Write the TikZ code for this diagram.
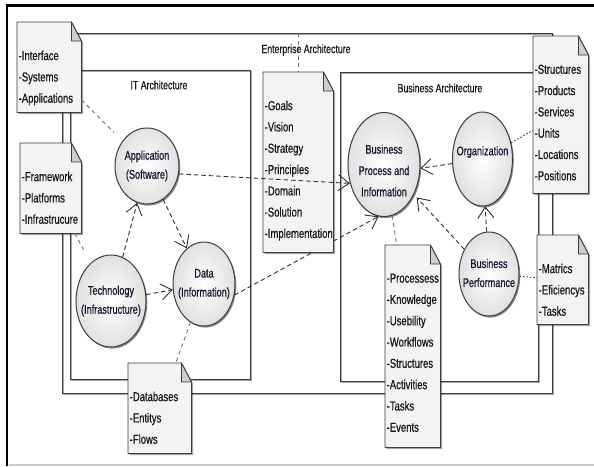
\documentclass[tikz,border=0pt]{standalone}
\usepackage{fontspec}
\setmainfont[FakeStretch=0.73,FakeBold=0.6]{Liberation Sans}
\usetikzlibrary{arrows.meta,shapes.geometric,shadows,calc}
\definecolor{edge}{HTML}{3C3C3C}
\definecolor{notefill}{HTML}{F3F3F3}
\definecolor{foldfill}{HTML}{CDCDCD}
\definecolor{txt}{HTML}{16161F}
\definecolor{circtxt}{HTML}{14142E}
\definecolor{conn}{HTML}{303030}
\definecolor{lightconn}{HTML}{707070}
\tikzset{
 pageborder/.style={draw=black, line width=2.6pt},
 pagebottom/.style={draw=black!20, line width=1.4pt},
 framedark/.style={draw=edge, line width=0.9pt},
 frameshade/.style={draw=black!35, line width=1pt},
 framelabel/.style={font=\fontsize{12}{15}\selectfont, text=txt, inner sep=0pt},
 notebase/.style={rectangle, anchor=north west, inner sep=0pt, draw=none},
 notebody/.style={fill=notefill, draw=edge, line width=0.8pt, line join=round,
   drop shadow={shadow xshift=1.6pt, shadow yshift=-1.6pt, fill=black, opacity=0.35}},
 notefoldst/.style={fill=foldfill, draw=edge, line width=0.8pt, line join=round},
 notetext/.style={anchor=north west, inner sep=0pt, align=left, text=txt, font=\fontsize{13}{21.3}\selectfont},
 circ/.style={ellipse, inner sep=0pt, draw=edge, line width=1pt, inner color=white, outer color=black!12,
   drop shadow={shadow xshift=1.3pt, shadow yshift=-1.6pt, fill=black, opacity=0.45}},
 circlabel/.style={inner sep=0pt, align=center, text=circtxt, font=\fontsize{12.5}{19}\selectfont},
 arr/.style={draw=conn, line width=0.9pt, dash pattern=on 4.5pt off 3pt, -{Straight Barb[length=11pt,width=16pt]}},
 tie/.style={draw=lightconn, line width=0.9pt, dash pattern=on 4pt off 3.5pt},
 dottie/.style={draw=conn, line width=0.9pt, dash pattern=on 1.5pt off 2pt},
}
\newcommand\notedoc[6]{%
 \node[notebase, minimum width=#4pt, minimum height=#5pt] (#1) at (#2,#3) {};
 \path[notebody] (#1.north west) -- ([xshift=-10pt]#1.north east) -- ([yshift=-19pt]#1.north east)
   -- (#1.south east) -- (#1.south west) -- cycle;
 \path[notefoldst] ([xshift=-10pt]#1.north east) -- ([xshift=-10pt,yshift=-19pt]#1.north east)
   -- ([yshift=-19pt]#1.north east) -- cycle;
 \node[notetext] (#1t) at ([xshift=1.5pt,yshift=-28.5pt]#1.north west) {#6};
}
\begin{document}
\begin{tikzpicture}[x=1pt,y=-1pt]
\useasboundingbox (0,0) rectangle (594,466);
\fill[white] (0,0) rectangle (594,466);
% page border
\draw[pageborder] (7,466) -- (7,5.5) -- (594,5.5);
\draw[pagebottom] (8.5,465) -- (594,465);
% frames
\draw[frameshade] (63.5,34.5) rectangle (553.5,394.5);
\draw[framedark] (62,33) rectangle (552,393);
\draw[frameshade] (71.5,71.5) rectangle (251.5,380.5);
\draw[framedark] (70,70) rectangle (250,379);
\draw[frameshade] (341.5,73.5) rectangle (539.5,382.5);
\draw[framedark] (340,72) rectangle (538,381);
\coordinate (eatop) at (298,33);
\node[framelabel] (eal) at (306,50) {Enterprise Architecture};
\node[framelabel] (itl) at (159,85) {IT Architecture};
\node[framelabel] (bal) at (440,88) {Business Architecture};
% circles
\node[circ, minimum width=64pt, minimum height=76pt] (app) at (147,166) {};
\node[circ, minimum width=70pt, minimum height=92pt] (tech) at (111,301) {};
\node[circ, minimum width=62pt, minimum height=84pt] (data) at (204,284) {};
\node[circ, minimum width=72pt, minimum height=104pt] (bp) at (384,164.5) {};
\node[circ, minimum width=60pt, minimum height=94pt] (org) at (482.5,159) {};
\node[circ, minimum width=60pt, minimum height=84pt] (perf) at (489,274) {};
\node[circlabel] (appt) at (app) {Application\\(Software)};
\node[circlabel] (techt) at (tech) {Technology\\(Infrastructure)};
\node[circlabel] (datat) at (data) {Data\\(Information)};
\node[circlabel, font=\fontsize{12.5}{21.3}\selectfont] (bpt) at ([yshift=-6pt]bp.center) {Business\\Process and\\Information};
\node[circlabel] (orgt) at ([yshift=7pt]org.center) {Organization};
\node[circlabel] (perft) at ([yshift=1pt]perf.center) {Business\\Performance};
\draw[arr] (data.-20) -- (bp.264);
% notes
\notedoc{iface}{17}{22}{64}{90}{-Interface\\-Systems\\-Applications}
\notedoc{fw}{20}{143}{61}{90}{-Framework\\-Platforms\\-Infrastrucure}
\notedoc{goals}{263}{72}{70}{180}{-Goals\\-Vision\\-Strategy\\-Principles\\-Domain\\-Solution\\-Implementation}
\notedoc{struct}{533}{36}{55}{157}{-Structures\\-Products\\-Services\\-Units\\-Locations\\-Positions}
\notedoc{matrics}{537}{235}{51}{89}{-Matrics\\-Eficiencys\\-Tasks}
\notedoc{proc}{385}{245}{55}{202}{-Processess\\-Knowledge\\-Usebility\\-Workflows\\-Structures\\-Activities\\-Tasks\\-Events}
\notedoc{db}{128}{363}{63}{90}{-Databases\\-Entitys\\-Flows}
% connectors
\draw[arr] (tech) -- (app);
\draw[arr] (app) -- (data);
\draw[arr] (tech) -- (data);
\draw[arr] (app.-14) -- (bp.209);
\draw[arr] (org) -- (bp.-6);
\draw[arr, shorten >=4pt] (perf.135) -- (bp.-45);
\draw[arr] (perf) -- (org);
\draw[tie, shorten >=12pt] (iface) -- (app);
\draw[tie, shorten >=15pt] (fw) -- (tech);
\draw[tie] (bp) -- (proc);
\draw[tie] (data) -- (db);
\draw[dottie] (org) -- (struct);
\draw[dottie] (perf) -- (matrics);
\draw[tie] (eatop) -- (eatop |- goals.north);
\end{tikzpicture}
\end{document}
